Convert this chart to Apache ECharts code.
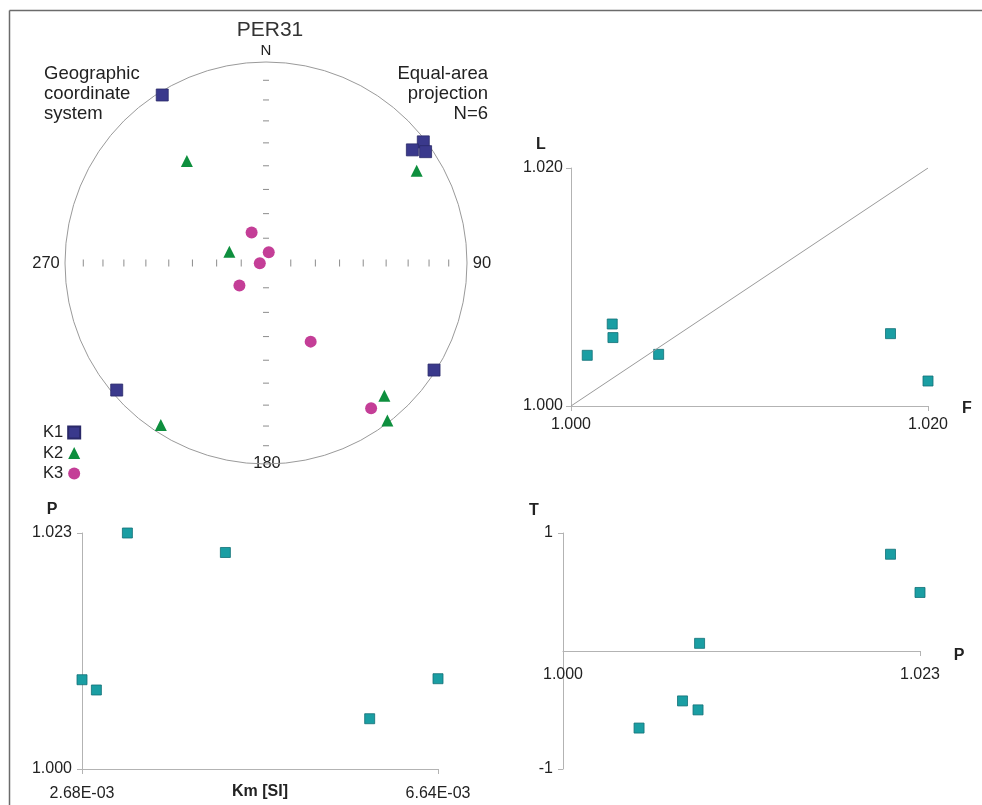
<!DOCTYPE html>
<html><head><meta charset="utf-8">
<script src="https://cdn.jsdelivr.net/npm/echarts@6/dist/echarts.min.js"></script>
<style>html,body{margin:0;padding:0;background:#fff}#c{width:982px;height:805px}</style>
</head><body><div id="c"></div>
<script>
// ---- Stereonet (declination / inclination, degrees) ----
const k1Dec = [328.3, 52.4, 52.3, 55.1, 122.5, 229.6];
const k1Inc = [2.0, 1.4, 8.8, 3.6, 1.0, 2.8];
const k2Dec = [322.2, 58.5, 287.1, 138.3, 142.4, 213.0];
const k2Inc = [36.0, 13.1, 74.5, 12.5, 1.2, 4.4];
const k3Dec = [334.7, 14.2, 267.0, 229.6, 150.4, 144.1];
const k3Inc = [76.4, 85.5, 87.5, 75.9, 52.9, 11.8];
const stereoTickDec = [0, 90, 180, 270];
const stereoTickInc = [10, 20, 30, 40, 50, 60, 70, 80];

// ---- Specimen parameters (one entry per specimen) ----
const kmValues = [2.68e-3, 2.84e-3, 3.185e-3, 4.275e-3, 5.88e-3, 6.64e-3];
const pValues  = [1.0087, 1.0077, 1.0230, 1.0211, 1.0049, 1.0088];
const tValues  = [-0.499, -0.423, 0.496, 0.820, -0.653, 0.065];
const fValues  = [1.00231, 1.00235, 1.01790, 1.02000, 1.00091, 1.00491];
const lValues  = [1.00689, 1.00575, 1.00608, 1.00210, 1.00426, 1.00434];
const diagLine = [[1.000, 1.000], [1.020, 1.020]];

// ---- Tick labels ----
const lfTicks = [1.000, 1.020];
const lfTickLabels = ['1.000', '1.020'];
const kmTicks = [2.68e-3, 6.64e-3];
const kmTickLabels = ['2.68E-03', '6.64E-03'];
const pTicks = [1.000, 1.023];
const pTickLabels = ['1.000', '1.023'];
const tTicks = [-1, 1];
const tTickLabels = ['-1', '1'];

const FONT = 'Liberation Sans, Arial, Helvetica, sans-serif';
const TEAL = '#1a9ea3', TEAL_B = '#127076';
const AX = '#b3b3b3';

function eqArea(inc) { return Math.SQRT2 * Math.sin((90 - inc) / 2 * Math.PI / 180); }
function pick(ticks, labels) {
  return function (v) {
    let best = 0, bd = Infinity;
    ticks.forEach((t, i) => { const d = Math.abs(t - v); if (d < bd) { bd = d; best = i; } });
    return bd < 1e-9 + Math.abs(ticks[1] - ticks[0]) * 1e-3 ? labels[best] : '';
  };
}
function valAxis(gi, min, max, ticks, labels, margin, extra) {
  return Object.assign({
    gridIndex: gi, type: 'value', min: min, max: max,
    axisLine: { show: true, onZero: false, lineStyle: { color: AX, width: 1 } },
    axisTick: { show: true, length: 5, customValues: ticks, lineStyle: { color: AX } },
    axisLabel: { customValues: ticks, formatter: pick(ticks, labels), margin: margin,
      fontSize: 16, color: '#222', fontFamily: FONT },
    splitLine: { show: false }
  }, extra || {});
}

const tickData = [];
stereoTickDec.forEach(d => stereoTickInc.forEach(i => {
  tickData.push({ value: [eqArea(i), d], symbolSize: (d % 180 === 0) ? [6, 1] : [1, 7] });
}));

const txt = (text, x, y, opts) => ({
  type: 'text', x: x, y: y, silent: true,
  style: Object.assign({ text: text, fill: '#222', font: '16px ' + FONT, align: 'center', verticalAlign: 'middle' }, opts || {})
});

const option = {
  animation: false,
  backgroundColor: '#fff',
  textStyle: { fontFamily: FONT },
  polar: { center: [266, 263], radius: 201 },
  angleAxis: {
    type: 'value', min: 0, max: 360, startAngle: 90, clockwise: true,
    axisLine: { show: true, lineStyle: { color: '#9a9a9a', width: 1 } },
    axisTick: { show: false }, axisLabel: { show: false },
    splitLine: { show: false }, splitArea: { show: false }
  },
  radiusAxis: {
    type: 'value', min: 0, max: 1, axisLine: { show: false }, axisTick: { show: false },
    axisLabel: { show: false }, splitLine: { show: false }, splitArea: { show: false }
  },
  legend: {
    data: ['K1', 'K2', 'K3'], orient: 'vertical', left: 38, top: 419, align: 'right',
    itemWidth: 12, itemHeight: 12, itemGap: 3.5, selectedMode: false,
    textStyle: { fontSize: 16.5, color: '#222', fontFamily: FONT }
  },
  grid: [
    { left: 571, top: 168, width: 357, height: 238, outerBoundsMode: 'none', containLabel: false },
    { left: 82, top: 533, width: 356, height: 236, outerBoundsMode: 'none', containLabel: false },
    { left: 563, top: 533, width: 357, height: 236, outerBoundsMode: 'none', containLabel: false }
  ],
  xAxis: [
    valAxis(0, 1.000, 1.020, lfTicks, lfTickLabels, 10.5),
    valAxis(1, 2.68e-3, 6.64e-3, kmTicks, kmTickLabels, 16.5),
    // T-P: horizontal axis drawn through T = 0 (middle of the -1..1 range)
    valAxis(2, 1.000, 1.023, pTicks, pTickLabels, 15.5, { offset: -118 })
  ],
  yAxis: [
    valAxis(0, 1.000, 1.020, lfTicks, lfTickLabels, 8),
    valAxis(1, 1.000, 1.023, pTicks, pTickLabels, 10),
    valAxis(2, -1, 1, tTicks, tTickLabels, 10)
  ],
  graphic: [
    { type: 'line', silent: true, shape: { x1: 9.5, y1: 10.5, x2: 982, y2: 10.5 }, style: { stroke: '#6b6b6b', lineWidth: 1.5 } },
    { type: 'line', silent: true, shape: { x1: 9.5, y1: 10.5, x2: 9.5, y2: 805 }, style: { stroke: '#6b6b6b', lineWidth: 1.5 } },
    txt('PER31', 270, 30, { font: '21px ' + FONT, fill: '#333' }),
    txt('N', 266, 51, { font: '15px ' + FONT }),
    txt('270', 46, 263, { font: '16.5px ' + FONT }),
    txt('90', 482, 263, { font: '16.5px ' + FONT }),
    txt('180', 267, 463, { font: '16.5px ' + FONT, backgroundColor: '#fff', padding: [0, 1] }),
    txt('Geographic\ncoordinate\nsystem', 44, 94, { font: '18.5px ' + FONT, align: 'left', lineHeight: 20 }),
    txt('Equal-area\nprojection\nN=6', 488, 94, { font: '18.5px ' + FONT, align: 'right', lineHeight: 20 }),
    txt('L', 541, 145, { font: 'bold 16px ' + FONT }),
    txt('F', 967, 409, { font: 'bold 16px ' + FONT }),
    txt('P', 52, 510, { font: 'bold 16px ' + FONT }),
    txt('Km [SI]', 260, 792, { font: 'bold 16px ' + FONT }),
    txt('T', 534, 511, { font: 'bold 16px ' + FONT }),
    txt('P', 959, 656, { font: 'bold 16px ' + FONT })
  ],
  series: [
    { type: 'scatter', coordinateSystem: 'polar', silent: true, symbol: 'rect', z: 1,
      itemStyle: { color: '#8c8c8c', opacity: 1 }, data: tickData },
    { name: 'K1', type: 'scatter', coordinateSystem: 'polar', symbol: 'rect', symbolSize: 12, z: 3,
      itemStyle: { color: '#3a398c', borderColor: '#2a2968', borderWidth: 0.8, opacity: 1 },
      data: k1Dec.map((d, i) => [eqArea(k1Inc[i]), d]) },
    { name: 'K2', type: 'scatter', coordinateSystem: 'polar', symbol: 'triangle', symbolSize: 12, z: 3,
      itemStyle: { color: '#0e8f3e', opacity: 1 },
      data: k2Dec.map((d, i) => [eqArea(k2Inc[i]), d]) },
    { name: 'K3', type: 'scatter', coordinateSystem: 'polar', symbol: 'circle', symbolSize: 12, z: 3,
      itemStyle: { color: '#c43e97', opacity: 1 },
      data: k3Dec.map((d, i) => [eqArea(k3Inc[i]), d]) },
    { type: 'line', xAxisIndex: 0, yAxisIndex: 0, silent: true, symbol: 'none',
      lineStyle: { color: '#9a9a9a', width: 1 }, data: diagLine },
    { type: 'scatter', xAxisIndex: 0, yAxisIndex: 0, symbol: 'rect', symbolSize: 10,
      itemStyle: { color: TEAL, borderColor: TEAL_B, borderWidth: 0.8, opacity: 1 },
      data: fValues.map((f, i) => [f, lValues[i]]) },
    { type: 'scatter', xAxisIndex: 1, yAxisIndex: 1, symbol: 'rect', symbolSize: 10,
      itemStyle: { color: TEAL, borderColor: TEAL_B, borderWidth: 0.8, opacity: 1 },
      data: kmValues.map((k, i) => [k, pValues[i]]) },
    { type: 'scatter', xAxisIndex: 2, yAxisIndex: 2, symbol: 'rect', symbolSize: 10,
      itemStyle: { color: TEAL, borderColor: TEAL_B, borderWidth: 0.8, opacity: 1 },
      data: pValues.map((p, i) => [p, tValues[i]]) }
  ]
};

const chart = echarts.init(document.getElementById('c'), null, { renderer: 'canvas' });
chart.setOption(option);
</script>
</body></html>
